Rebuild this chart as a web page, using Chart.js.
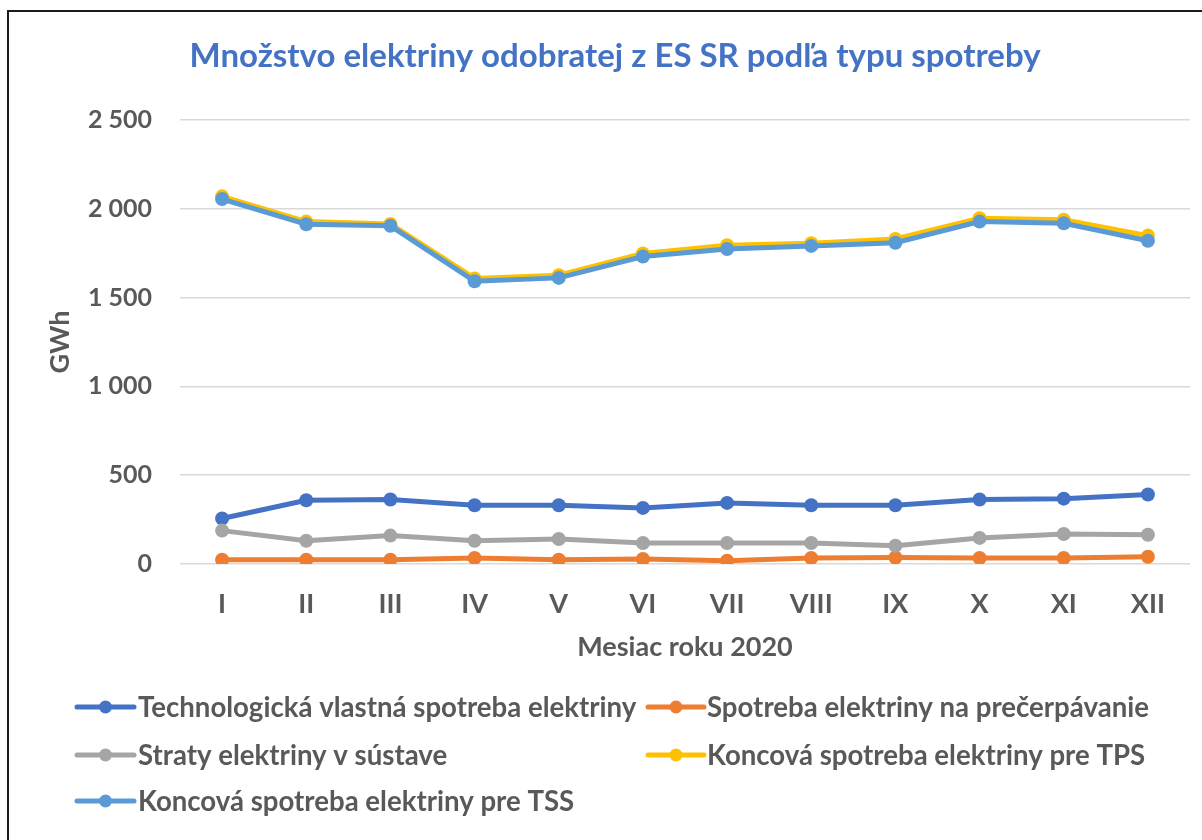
<!DOCTYPE html>
<html>
<head>
<meta charset="utf-8">
<script src="https://cdn.jsdelivr.net/npm/chart.js@4/dist/chart.umd.min.js"></script>
<style>
  html, body { margin: 0; padding: 0; background: #ffffff; }
  #wrap { width: 1202px; height: 840px; position: relative; }
</style>
</head>
<body>
<div id="wrap"><canvas id="c" width="1202" height="840"></canvas></div>
<script>
const months = ['I', 'II', 'III', 'IV', 'V', 'VI', 'VII', 'VIII', 'IX', 'X', 'XI', 'XII'];
const techSelf = [256, 359, 363, 331, 331, 316, 344, 331, 331, 363, 368, 391];
const pumping = [24, 24, 24, 34, 24, 28, 19, 34, 37, 34, 34, 41];
const losses = [188, 131, 160, 131, 141, 118, 118, 118, 103, 147, 169, 165];
const finalTPS = [2070, 1928, 1915, 1608, 1626, 1749, 1795, 1806, 1830, 1947, 1938, 1849];
const finalTSS = [2055, 1913, 1904, 1592, 1611, 1731, 1774, 1791, 1809, 1928, 1919, 1820];
const seriesNames = [
  'Technologická vlastná spotreba elektriny',
  'Spotreba elektriny na prečerpávanie',
  'Straty elektriny v sústave',
  'Koncová spotreba elektriny pre TPS',
  'Koncová spotreba elektriny pre TSS'
];
const seriesColors = ['#4472C4', '#ED7D31', '#A5A5A5', '#FFC000', '#5B9BD5'];
const titleText = 'Množstvo elektriny odobratej z ES SR podľa typu spotreby';
const xTitle = 'Mesiac roku 2020';
const yTitle = 'GWh';

const FONT = 'Lato, "Open Sans", sans-serif';
const TEXT = '#595959';

function ds(i, data, order) {
  return {
    label: seriesNames[i],
    data: data,
    borderColor: seriesColors[i],
    backgroundColor: seriesColors[i],
    pointBackgroundColor: seriesColors[i],
    pointBorderColor: seriesColors[i],
    borderWidth: 5,
    pointRadius: 7,
    pointBorderWidth: 0,
    pointHoverRadius: 7,
    tension: 0,
    fill: false,
    order: order
  };
}

const frame = {
  id: 'frame',
  afterDraw(chart) {
    const ctx = chart.ctx;
    ctx.save();
    ctx.fillStyle = '#1a1a1a';
    ctx.fillRect(7, 10, 1202 - 7, 2);
    ctx.fillRect(7, 10, 2, 840 - 10);
    ctx.restore();
  }
};

const gridLegend = {
  id: 'gridLegend',
  afterDraw(chart) {
    const ctx = chart.ctx;
    const cols = [{ x0: 77, x1: 134, tx: 138 }, { x0: 648, x1: 704, tx: 707 }];
    const rows = [707, 755, 801];
    ctx.save();
    ctx.font = 'bold 27.6px ' + FONT;
    ctx.textBaseline = 'middle';
    ctx.textAlign = 'left';
    chart.data.datasets.forEach((d, i) => {
      const c = cols[i % 2];
      const y = rows[Math.floor(i / 2)];
      ctx.strokeStyle = d.borderColor;
      ctx.lineWidth = 5;
      ctx.lineCap = 'round';
      ctx.beginPath();
      ctx.moveTo(c.x0, y);
      ctx.lineTo(c.x1, y);
      ctx.stroke();
      ctx.fillStyle = d.borderColor;
      ctx.beginPath();
      ctx.arc((c.x0 + c.x1) / 2, y, 6.5, 0, Math.PI * 2);
      ctx.fill();
      ctx.fillStyle = TEXT;
      ctx.fillText(d.label, c.tx, y + 1);
    });
    ctx.restore();
  }
};

new Chart(document.getElementById('c'), {
  type: 'line',
  data: {
    labels: months,
    datasets: [
      ds(0, techSelf, 5),
      ds(1, pumping, 4),
      ds(2, losses, 3),
      ds(3, finalTPS, 2),
      ds(4, finalTSS, 1)
    ]
  },
  options: {
    responsive: false,
    animation: false,
    devicePixelRatio: 1,
    events: [],
    layout: { padding: { left: 40, right: 12, top: 0, bottom: 171 } },
    plugins: {
      legend: { display: false },
      tooltip: { enabled: false },
      title: {
        display: true,
        text: titleText,
        color: '#4472C4',
        font: { family: FONT, size: 33, weight: 'bold' },
        padding: { top: 37, bottom: 43.4 }
      }
    },
    scales: {
      x: {
        offset: true,
        afterFit(scale) { scale.height = 105; },
        grid: { display: false, drawTicks: false },
        border: { display: false },
        ticks: {
          color: TEXT,
          font: { family: FONT, size: 27, weight: 'bold' },
          padding: 24,
          maxRotation: 0,
          autoSkip: false
        },
        title: {
          display: true,
          text: xTitle,
          color: TEXT,
          font: { family: FONT, size: 27, weight: 'bold' },
          padding: { top: 0, bottom: 5.8 }
        }
      },
      y: {
        min: 0,
        max: 2500,
        afterFit(scale) { scale.width = 140; },
        grid: { color: '#D9D9D9', lineWidth: 1.5, drawTicks: false },
        border: { display: false },
        ticks: {
          stepSize: 500,
          color: TEXT,
          font: { family: FONT, size: 25, weight: 'bold' },
          padding: 28,
          callback: (v) => String(v).replace(/\B(?=(\d{3})+(?!\d))/g, ' ')
        },
        title: {
          display: true,
          text: yTitle,
          color: TEXT,
          font: { family: FONT, size: 27, weight: 'bold' },
          padding: { top: 3.8, bottom: 0 }
        }
      }
    }
  },
  plugins: [frame, gridLegend]
});
</script>
</body>
</html>
